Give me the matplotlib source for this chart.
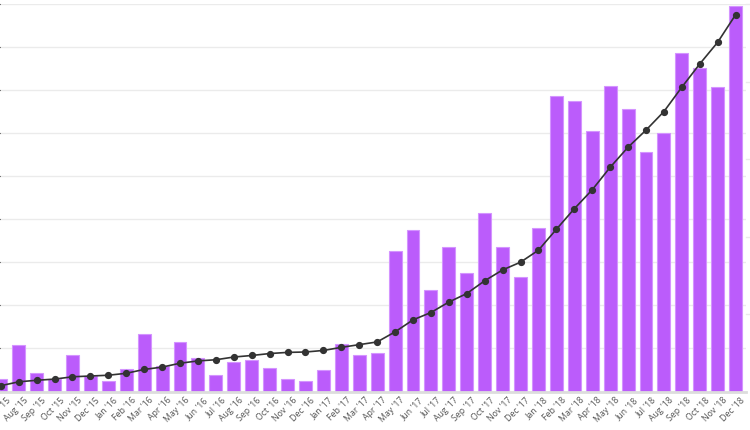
import matplotlib.pyplot as plt
from matplotlib.transforms import ScaledTranslation

months = ["Jul '15", "Aug '15", "Sep '15", "Oct '15", "Nov '15", "Dec '15",
          "Jan '16", "Feb '16", "Mar '16", "Apr '16", "May '16", "Jun '16",
          "Jul '16", "Aug '16", "Sep '16", "Oct '16", "Nov '16", "Dec '16",
          "Jan '17", "Feb '17", "Mar '17", "Apr '17", "May '17", "Jun '17",
          "Jul '17", "Aug '17", "Sep '17", "Oct '17", "Nov '17", "Dec '17",
          "Jan '18", "Feb '18", "Mar '18", "Apr '18", "May '18", "Jun '18",
          "Jul '18", "Aug '18", "Sep '18", "Oct '18", "Nov '18", "Dec '18"]

# monthly values (left axis)
monthly = [3.0, 10.9, 4.4, 3.0, 8.4, 3.5,
           2.4, 5.3, 13.4, 5.9, 11.4, 7.8,
           3.9, 6.9, 7.3, 5.5, 3.0, 2.5,
           5.0, 11.1, 8.5, 9.0, 32.6, 37.6,
           23.6, 33.6, 27.5, 41.6, 33.6, 26.5,
           38.0, 68.6, 67.6, 60.6, 71.1, 65.7,
           55.6, 60.1, 78.7, 75.2, 70.7, 89.7]

# running trend (right axis)
trend = [1.5, 2.5, 2.9, 3.2, 3.8, 4.0,
         4.2, 4.7, 5.7, 6.3, 7.3, 7.9,
         8.2, 8.9, 9.3, 9.8, 10.1, 10.2,
         10.6, 11.4, 12.1, 12.8, 15.4, 18.5,
         20.4, 23.1, 25.3, 28.6, 31.4, 33.4,
         36.5, 41.9, 47.2, 52.1, 57.9, 63.1,
         67.5, 72.3, 78.6, 84.6, 90.2, 97.3]

x = list(range(len(months)))

fig = plt.figure(figsize=(7.5, 4.3), dpi=100)
ax = fig.add_axes([0, 38.5 / 430, 746 / 750, 387.2 / 430])

ax.bar(x, monthly, width=0.72, color='#bb5cfb', edgecolor='#d494ff',
       linewidth=0.8, zorder=2)

ax.set_ylim(0, 90)
ax.set_yticks(range(0, 91, 10))
ax.set_xlim(-0.045, 41.58)
ax.grid(axis='y', color='#ebebeb', linewidth=1, zorder=0)
ax.set_axisbelow(True)
for side in ['left', 'right', 'top']:
    ax.spines[side].set_visible(False)
ax.spines['bottom'].set_color('#dddddd')
ax.spines['bottom'].set_linewidth(2)
ax.tick_params(axis='y', left=False, labelleft=False)
ax.tick_params(axis='x', length=0, pad=3)
ax.set_xticks(x)
ax.set_xticklabels(months, rotation=45, ha='right', rotation_mode='anchor',
                   fontsize=6.3, color='#555555', family='Open Sans')
shift = ScaledTranslation(5 / 100, 0, fig.dpi_scale_trans)
for lbl in ax.get_xticklabels():
    lbl.set_transform(lbl.get_transform() + shift)

ax2 = ax.twinx()
ax2.plot(x, trend, color='#333333', linewidth=1.2, marker='o',
         markersize=4.2, zorder=3)
ax2.set_ylim(0, 100)
for v in range(20, 101, 20):
    ax2.plot([1.0, 1.01], [v, v], color='#ebebeb', linewidth=1,
             transform=ax2.get_yaxis_transform(), clip_on=False)
ax2.axis('off')

fig.savefig('out.png', dpi=100)
